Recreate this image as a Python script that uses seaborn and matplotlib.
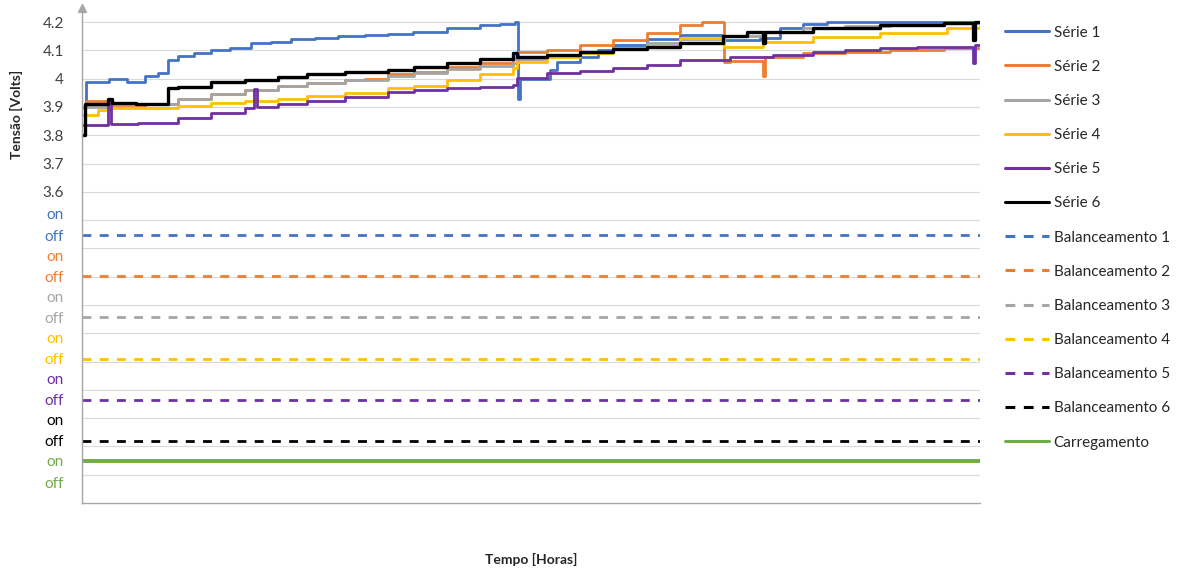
import numpy as np
import pandas as pd
import matplotlib.pyplot as plt
import seaborn as sns
from matplotlib.lines import Line2D

sns.set_style("white")
plt.rcParams['font.family'] = ['Lato', 'DejaVu Sans']

# time axis is unitless (no tick labels in the original), 0..100
serie1_t = [0, 0.5, 3, 5, 7, 8.5, 9.6, 10.7, 12.5, 14.4, 16.5, 18.8, 21, 23.3, 26, 28.5, 31.5, 34.1,
            36.9, 40.6, 44.3, 46.5, 48.2, 48.5, 48.8, 52.1, 52.9, 55.5, 57.5, 59.1, 62.9, 66.6, 71.4,
            75.5, 77.7, 80.3, 83.0, 100]
serie1_v = [3.90, 3.99, 4.00, 3.99, 4.01, 4.02, 4.065, 4.08, 4.09, 4.10, 4.11, 4.125, 4.13, 4.14, 4.145,
            4.15, 4.155, 4.157, 4.166, 4.18, 4.19, 4.195, 4.20, 3.93, 4.00, 4.03, 4.06, 4.078, 4.10, 4.12,
            4.14, 4.155, 4.137, 4.145, 4.178, 4.195, 4.20, 4.20]

serie2_t = [0, 0.5, 3, 7, 10.7, 14.4, 18.2, 21.8, 25, 29.3, 31.5, 34.1, 37, 40.6, 44.3, 48.0, 48.4, 51.8,
            55.5, 59.1, 62.9, 66.6, 69, 71.5, 72.2, 75.8, 76.1, 80.3, 85, 90, 96, 100]
serie2_v = [3.90, 3.92, 3.90, 3.91, 3.93, 3.945, 3.96, 3.975, 3.985, 3.995, 4.00, 4.015, 4.025, 4.04,
            4.055, 4.07, 4.095, 4.10, 4.12, 4.137, 4.16, 4.19, 4.2, 4.06, 4.063, 4.01, 4.078, 4.09, 4.095,
            4.10, 4.108, 4.11]

serie3_t = [0, 3, 7, 10.7, 14.4, 18.2, 21.8, 25, 29.3, 34.1, 37, 40.6, 44.3, 48.0, 48.4, 51.8, 55.5, 59.1,
            62.9, 66.6, 71.5, 75.8, 80.3, 85, 90, 96, 100]
serie3_v = [3.90, 3.91, 3.91, 3.93, 3.945, 3.96, 3.975, 3.985, 3.995, 4.01, 4.02, 4.035, 4.045, 4.055,
            4.07, 4.085, 4.095, 4.11, 4.125, 4.14, 4.15, 4.165, 4.178, 4.185, 4.19, 4.198, 4.20]

serie4_t = [0, 1.8, 3.2, 7, 10.7, 14.4, 18.2, 21.8, 25, 29.3, 34.1, 37, 40.6, 44.3, 48.0, 48.4, 51.8,
            55.5, 59.1, 62.9, 66.6, 71.5, 75.8, 81.4, 88.9, 96.3, 100]
serie4_v = [3.87, 3.89, 3.895, 3.895, 3.905, 3.915, 3.92, 3.93, 3.94, 3.95, 3.967, 3.975, 3.995, 4.015,
            4.037, 4.06, 4.075, 4.09, 4.105, 4.115, 4.145, 4.113, 4.13, 4.148, 4.16, 4.178, 4.186]

serie5_t = [0, 2.9, 3.2, 6.2, 7, 10.7, 14.4, 18.2, 19.2, 19.5, 21.8, 25, 29.3, 34.1, 37, 40.6, 44.3,
            48.0, 48.4, 51.8, 55.5, 59.1, 62.9, 66.6, 71.4, 72.2, 77, 81.4, 85, 88.9, 93, 99.2, 99.4, 100]
serie5_v = [3.835, 3.92, 3.84, 3.843, 3.845, 3.86, 3.88, 3.895, 3.965, 3.90, 3.91, 3.92, 3.935, 3.953,
            3.96, 3.967, 3.972, 3.978, 4.002, 4.02, 4.028, 4.037, 4.05, 4.065, 4.066, 4.078, 4.085, 4.095,
            4.10, 4.108, 4.112, 4.055, 4.118, 4.118]

serie6_t = [0, 0.3, 2.9, 3.3, 6, 9.6, 10.7, 14.4, 18.2, 21.8, 25, 29.3, 34.1, 37, 40.6, 44.3, 48.0, 48.4,
            51.8, 55.5, 59.1, 62.9, 66.6, 71.4, 74.1, 75.8, 76.1, 81.4, 88.9, 96, 99.2, 99.4, 100]
serie6_v = [3.80, 3.91, 3.93, 3.915, 3.91, 3.967, 3.97, 3.99, 3.995, 4.005, 4.015, 4.023, 4.03, 4.04,
            4.055, 4.07, 4.09, 4.078, 4.085, 4.095, 4.105, 4.113, 4.125, 4.15, 4.166, 4.125, 4.165, 4.178,
            4.19, 4.196, 4.137, 4.20, 4.20]

serie_names = ["Série 1", "Série 2", "Série 3", "Série 4", "Série 5", "Série 6"]
serie_t = [serie1_t, serie2_t, serie3_t, serie4_t, serie5_t, serie6_t]
serie_v = [serie1_v, serie2_v, serie3_v, serie4_v, serie5_v, serie6_v]
colors = ["#4472C4", "#ED7D31", "#A5A5A5", "#FFC000", "#7030A0", "#000000", "#70AD47"]

# digital signals: 0 = off, 1 = on (constant through the run)
state_t = [0, 100]
balance_names = ["Balanceamento 1", "Balanceamento 2", "Balanceamento 3",
                 "Balanceamento 4", "Balanceamento 5", "Balanceamento 6"]
balance_state = [[0, 0], [0, 0], [0, 0], [0, 0], [0, 0], [0, 0]]
charge_name = "Carregamento"
charge_state = [1, 1]

# where each on/off band sits on the shared vertical axis
off_levels = [3.447, 3.3015, 3.156, 3.0105, 2.865, 2.7195, 2.574]
on_step = 0.075
volt_ticks = [4.2, 4.1, 4.0, 3.9, 3.8, 3.7, 3.6]
volt_labels = ["4.2", "4.1", "4", "3.9", "3.8", "3.7", "3.6"]

fig = plt.figure(figsize=(11.8, 5.7), dpi=100)
ax = fig.add_axes([82 / 1180, 1 - 503 / 570, (980 - 82) / 1180, (503 - 8) / 570])

for name, t, v, c in zip(serie_names, serie_t, serie_v, colors):
    df = pd.DataFrame({"t": t, "v": v})
    sns.lineplot(data=df, x="t", y="v", ax=ax, color=c, lw=2.4 if c == "#000000" else 2.0,
                 drawstyle="steps-post", estimator=None, label=name)

for i, (name, st) in enumerate(zip(balance_names, balance_state)):
    df = pd.DataFrame({"t": state_t, "v": [off_levels[i] + s * on_step for s in st]})
    sns.lineplot(data=df, x="t", y="v", ax=ax, color=colors[i], lw=2.0,
                 linestyle=(0, (3.2, 3.0)), estimator=None, label=name)

df = pd.DataFrame({"t": state_t, "v": [off_levels[6] + s * on_step for s in charge_state]})
sns.lineplot(data=df, x="t", y="v", ax=ax, color=colors[6], lw=2.8, estimator=None, label=charge_name)

if ax.get_legend():
    ax.get_legend().remove()

ax.set_xlim(0, 100)
ax.set_ylim(2.5, 4.25)

# y ticks: voltages then on/off pairs
tick_pos = list(volt_ticks)
tick_lab = list(volt_labels)
tick_col = ["#404040"] * len(volt_ticks)
for i, lvl in enumerate(off_levels):
    tick_pos += [lvl + on_step, lvl]
    tick_lab += ["on", "off"]
    tick_col += [colors[i], colors[i]]
ax.set_yticks(tick_pos)
ax.set_yticklabels(tick_lab)
for lab, c in zip(ax.get_yticklabels(), tick_col):
    lab.set_color(c)
ax.tick_params(axis="y", length=0, pad=13, labelsize=11)
ax.set_xticks([])

ax.yaxis.remove_overlapping_locs = False
ax.set_yticks(np.arange(2.6, 4.21, 0.1), minor=True)
ax.tick_params(axis="y", which="minor", length=0)
ax.grid(True, which="minor", axis="y", color="#D9D9D9", lw=0.8)
ax.grid(False, which="major")
ax.set_axisbelow(True)

sns.despine(ax=ax)
for s in ["left", "bottom"]:
    ax.spines[s].set_color("#A6A6A6")
    ax.spines[s].set_linewidth(1.0)
ax.plot(0, 1, marker="^", color="#A6A6A6", markersize=6, transform=ax.transAxes, clip_on=False)

ax.set_xlabel("Tempo [Horas]", fontsize=10, fontweight="bold", color="#262626")
ax.xaxis.set_label_coords(0.5, -0.1)
ax.set_ylabel("Tensão [Volts]", fontsize=10, fontweight="bold", color="#262626")
ax.yaxis.set_label_coords(-0.066, 0.785)

handles = []
for i in range(6):
    handles.append(Line2D([], [], color=colors[i], lw=2.2))
for i in range(6):
    handles.append(Line2D([], [], color=colors[i], lw=2.2, linestyle=(0, (3.2, 2.8))))
handles.append(Line2D([], [], color=colors[6], lw=2.2))
labels = serie_names + balance_names + [charge_name]
fig.legend(handles, labels, loc="upper left", bbox_to_anchor=(997 / 1180, 1 - 18 / 570),
           frameon=False, fontsize=11, handlelength=2.9, handletextpad=0.3,
           labelspacing=1.32, borderpad=0, labelcolor="#262626")

fig.savefig("out.png", dpi=100)
